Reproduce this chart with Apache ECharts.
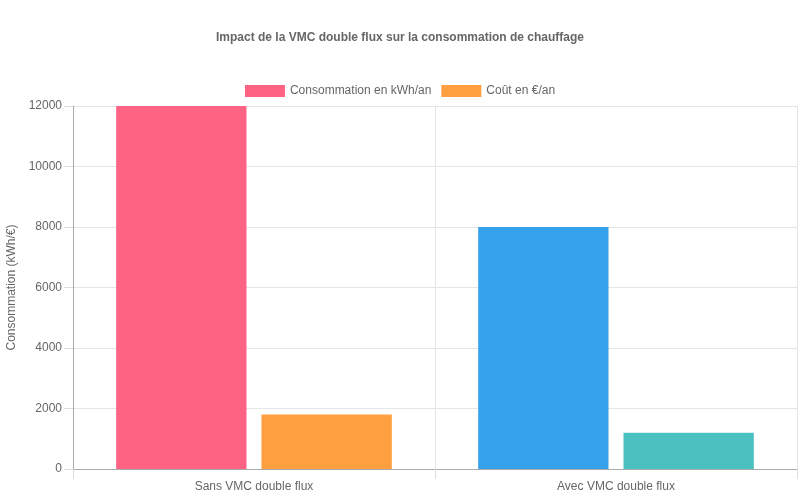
<!DOCTYPE html>
<html>
<head>
<meta charset="utf-8">
<script src="https://cdn.jsdelivr.net/npm/echarts@6/dist/echarts.min.js"></script>
<style>
html,body{margin:0;padding:0;background:#fff;}
#chart{width:800px;height:500px;}
</style>
</head>
<body>
<div id="chart"></div>
<script>
const titleText = 'Impact de la VMC double flux sur la consommation de chauffage';
const categories = ['Sans VMC double flux', 'Avec VMC double flux'];
const seriesNames = ['Consommation en kWh/an', 'Coût en €/an'];
const consommation = [12000, 8000];
const cout = [1800, 1200];
const consommationColors = ['#ff6384', '#36a2eb'];
const coutColors = ['#ff9f40', '#4bc0c0'];
const yAxisName = 'Consommation (kWh/€)';

const font = 'Liberation Sans, Arial, sans-serif';
function items(values, colors) {
  return values.map((v, i) => ({ value: v, itemStyle: { color: colors[i] } }));
}
const chart = echarts.init(document.getElementById('chart'));
chart.setOption({
  animation: false,
  title: {
    text: titleText,
    left: 'center',
    top: 27,
    textStyle: { fontFamily: font, fontSize: 12, fontWeight: 'bold', color: '#666' }
  },
  legend: {
    top: 80,
    left: 'center',
    icon: 'rect',
    itemWidth: 40,
    itemHeight: 12,
    itemGap: 10,
    textStyle: { fontFamily: font, fontSize: 12, color: '#666' },
    data: [
      { name: seriesNames[0], itemStyle: { color: consommationColors[0] } },
      { name: seriesNames[1], itemStyle: { color: coutColors[0] } }
    ]
  },
  grid: { left: 73, right: 3, top: 106, bottom: 31, containLabel: false, outerBoundsMode: 'none' },
  xAxis: {
    type: 'category',
    data: categories,
    axisLine: { lineStyle: { color: '#aaa' } },
    axisTick: { show: true, length: 10, lineStyle: { color: '#ddd' } },
    axisLabel: { fontFamily: font, fontSize: 12, color: '#666', margin: 12 },
    splitLine: { show: true, lineStyle: { color: '#e5e5e5' } }
  },
  yAxis: {
    type: 'value',
    min: 0,
    max: 12000,
    interval: 2000,
    name: yAxisName,
    nameLocation: 'middle',
    nameGap: 54,
    nameTextStyle: { fontFamily: font, fontSize: 12, color: '#666' },
    axisLine: { show: true, lineStyle: { color: '#aaa' } },
    axisTick: { show: true, length: 9, lineStyle: { color: '#ddd' } },
    axisLabel: { fontFamily: font, fontSize: 12, color: '#666', margin: 11, formatter: v => String(v) },
    splitLine: { show: true, lineStyle: { color: '#e5e5e5' } }
  },
  series: [
    {
      name: seriesNames[0],
      type: 'bar',
      data: items(consommation, consommationColors),
      itemStyle: { color: consommationColors[0] },
      barWidth: '36%',
      barGap: '11.5%'
    },
    {
      name: seriesNames[1],
      type: 'bar',
      data: items(cout, coutColors),
      itemStyle: { color: coutColors[0] },
      barWidth: '36%',
      barGap: '11.5%'
    }
  ]
});
</script>
</body>
</html>
